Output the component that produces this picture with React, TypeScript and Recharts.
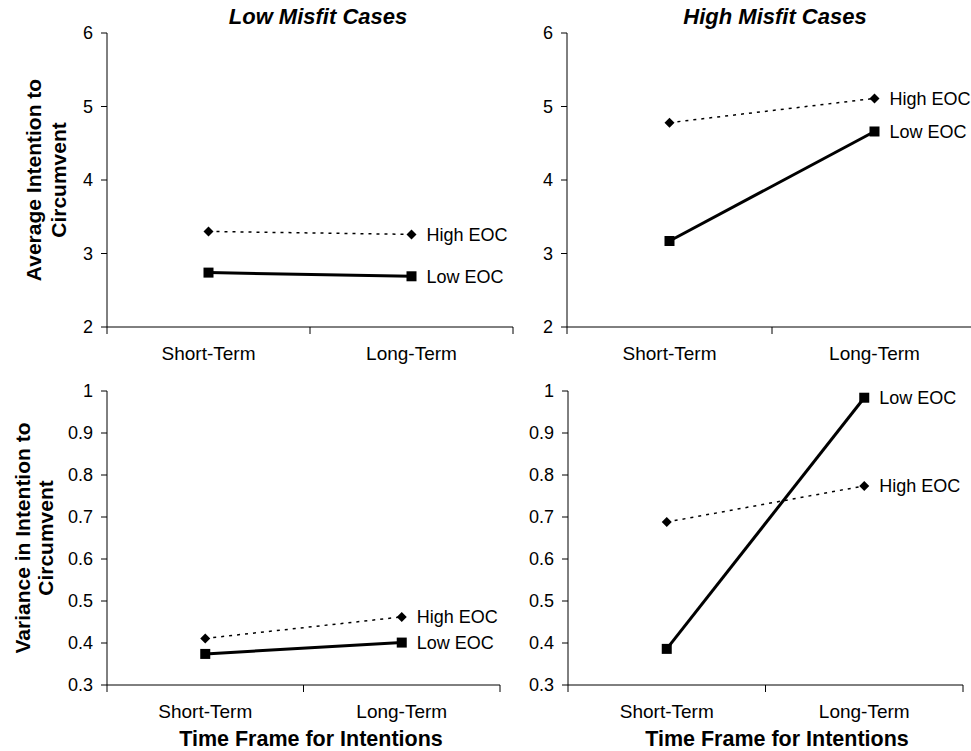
import { LabelList, Line, LineChart, XAxis, YAxis } from 'recharts'

const categories = ['Short-Term', 'Long-Term']

// average intention (top row)
const lowMisfitMeanHigh = [3.3, 3.26]
const lowMisfitMeanLow = [2.74, 2.69]
const highMisfitMeanHigh = [4.78, 5.11]
const highMisfitMeanLow = [3.17, 4.66]

// variance in intention (bottom row)
const lowMisfitVarHigh = [0.411, 0.462]
const lowMisfitVarLow = [0.374, 0.401]
const highMisfitVarHigh = [0.688, 0.774]
const highMisfitVarLow = [0.386, 0.984]

const meanTicks = [2, 3, 4, 5, 6]
const varTicks = [0.3, 0.4, 0.5, 0.6, 0.7, 0.8, 0.9, 1]

const FONT = '"Liberation Sans", Arial, sans-serif'

function XTick(props: any) {
  const { x, y, payload } = props
  const v = payload.value
  if (Number.isInteger(v)) {
    return <line x1={x} y1={y} x2={x} y2={y + 7} stroke="#000" strokeWidth={1} />
  }
  return (
    <text x={x} y={y + 26} dy="0.35em" textAnchor="middle" fontSize={19} fill="#000" fontFamily={FONT}>
      {categories[Math.floor(v)]}
    </text>
  )
}

function Diamond({ cx, cy }: any) {
  if (cx == null || cy == null) return null
  const r = 5
  return <polygon points={`${cx},${cy - r} ${cx + r},${cy} ${cx},${cy + r} ${cx - r},${cy}`} fill="#000" />
}

function Square({ cx, cy }: any) {
  if (cx == null || cy == null) return null
  return <rect x={cx - 5} y={cy - 5} width={10} height={10} fill="#000" />
}

function endLabel(text: string, offset: number) {
  return (p: any) => {
    if (p.index !== categories.length - 1) return null
    return (
      <text x={p.x + offset} y={p.y} dy="0.35em" fontSize={18} fill="#000" fontFamily={FONT}>
        {text}
      </text>
    )
  }
}

interface PanelProps {
  left: number
  top: number
  x0: number
  x1: number
  y0: number
  y1: number
  high: number[]
  low: number[]
  ticks: number[]
  yLabel?: string[]
  yLabelX?: number[]
}

function Panel({ left, top, x0, x1, y0, y1, high, low, ticks, yLabel, yLabelX }: PanelProps) {
  const data = categories.map((c, i) => ({ x: i + 0.5, name: c, high: high[i], low: low[i] }))
  const width = x1 + 20 - left
  const height = y1 + 45 - top
  return (
    <div style={{ position: 'absolute', left, top }}>
      <LineChart width={width} height={height} data={data} margin={{ top: y0 - top, right: 20, bottom: 0, left: 0 }}>
        <XAxis
          type="number"
          dataKey="x"
          domain={[0, 2]}
          ticks={[0, 0.5, 1, 1.5, 2]}
          interval={0}
          height={45}
          tickLine={false}
          tickSize={0}
          tickMargin={0}
          axisLine={{ stroke: '#000' }}
          tick={<XTick />}
        />
        <YAxis
          type="number"
          domain={[ticks[0], ticks[ticks.length - 1]]}
          ticks={ticks}
          interval={0}
          width={x0 - left}
          tickSize={6}
          tickMargin={8}
          axisLine={{ stroke: '#000' }}
          tickLine={{ stroke: '#000' }}
          tick={{ fill: '#000', fontSize: 18, fontFamily: FONT }}
          tickFormatter={(v: number) => String(v)}
          label={
            yLabel
              ? {
                  content: (p: any) => {
                    const vb = p.viewBox || {}
                    const cy = (vb.y ?? y0 - top) + (vb.height ?? y1 - y0) / 2
                    return (
                      <g>
                        {yLabel.map((t, i) => (
                          <text
                            key={t}
                            x={yLabelX![i]}
                            y={cy}
                            transform={`rotate(-90 ${yLabelX![i]} ${cy})`}
                            textAnchor="middle"
                            dominantBaseline="central"
                            fontSize={21}
                            fontWeight="bold"
                            fill="#000"
                            fontFamily={FONT}
                          >
                            {t}
                          </text>
                        ))}
                      </g>
                    )
                  },
                }
              : undefined
          }
        />
        <Line
          type="linear"
          dataKey="high"
          stroke="#000"
          strokeWidth={1.5}
          strokeDasharray="3 5"
          dot={<Diamond />}
          activeDot={false}
          isAnimationActive={false}
        >
          <LabelList dataKey="high" content={endLabel('High EOC', 15)} />
        </Line>
        <Line
          type="linear"
          dataKey="low"
          stroke="#000"
          strokeWidth={3}
          dot={<Square />}
          activeDot={false}
          isAnimationActive={false}
        >
          <LabelList dataKey="low" content={endLabel('Low EOC', 15)} />
        </Line>
      </LineChart>
    </div>
  )
}

const titleStyle = {
  position: 'absolute' as const,
  fontFamily: FONT,
  fontWeight: 'bold' as const,
  color: '#000',
  transform: 'translate(-50%, -50%)',
  whiteSpace: 'nowrap' as const,
}

export default function App() {
  return (
    <div
      style={{
        position: 'absolute',
        left: 0,
        top: 0,
        width: 971,
        height: 751,
        overflow: 'hidden',
        background: '#fff',
        fontFamily: FONT,
      }}
    >
      <Panel
        left={0}
        top={0}
        x0={107}
        x1={513}
        y0={33}
        y1={327}
        high={lowMisfitMeanHigh}
        low={lowMisfitMeanLow}
        ticks={meanTicks}
        yLabel={['Average Intention to', 'Circumvent']}
        yLabelX={[33, 58]}
      />
      <Panel
        left={460}
        top={0}
        x0={567}
        x1={977}
        y0={33}
        y1={327}
        high={highMisfitMeanHigh}
        low={highMisfitMeanLow}
        ticks={meanTicks}
      />
      <Panel
        left={0}
        top={360}
        x0={107}
        x1={500}
        y0={391}
        y1={685}
        high={lowMisfitVarHigh}
        low={lowMisfitVarLow}
        ticks={varTicks}
        yLabel={['Variance in Intention to', 'Circumvent']}
        yLabelX={[22, 45]}
      />
      <Panel
        left={460}
        top={360}
        x0={568}
        x1={963}
        y0={391}
        y1={685}
        high={highMisfitVarHigh}
        low={highMisfitVarLow}
        ticks={varTicks}
      />
      <div style={{ ...titleStyle, left: 318, top: 17, fontSize: 22, fontStyle: 'italic' }}>Low Misfit Cases</div>
      <div style={{ ...titleStyle, left: 775, top: 17, fontSize: 22, fontStyle: 'italic' }}>High Misfit Cases</div>
      <div style={{ ...titleStyle, left: 311, top: 739, fontSize: 21.5 }}>Time Frame for Intentions</div>
      <div style={{ ...titleStyle, left: 777, top: 739, fontSize: 21.5 }}>Time Frame for Intentions</div>
    </div>
  )
}
